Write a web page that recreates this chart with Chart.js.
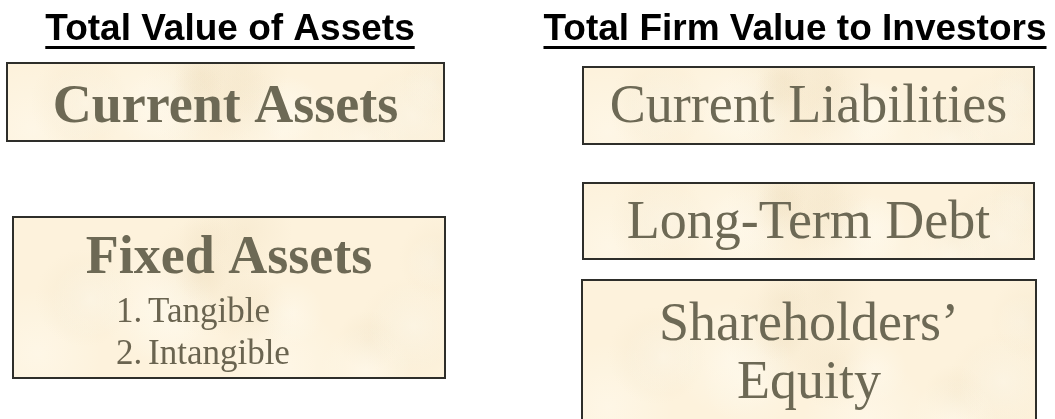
<!DOCTYPE html>
<html>
<head>
<meta charset="utf-8">
<script src="https://cdn.jsdelivr.net/npm/chart.js@4.4.1/dist/chart.umd.min.js"></script>
<style>
  html, body { margin: 0; padding: 0; background: #fff; }
  #wrap { width: 1055px; height: 419px; }
</style>
</head>
<body>
<div id="wrap"><canvas id="c"></canvas></div>
<script>
// column headings and box contents
const columnTitles = ["Total Value of Assets", "Total Firm Value to Investors"];
const boxLabels = [["Current Assets"], ["Fixed Assets"], ["Current Liabilities"], ["Long-Term Debt"], ["Shareholders\u2019", "Equity"]];
const boxBold = [true, true, false, false, false];
const fixedAssetItems = ["Tangible", "Intangible"];

// box extents in chart units (x: 0-1055, y: 0-419 from the top)
const boxX = [[7, 444], [13, 445], [583, 1034], [583, 1034], [582, 1036]];
const boxY = [[63, 141], [217, 378], [67, 144], [183, 259], [280, 430]];

const layout = {
  titleX: [230, 795], titleBase: 40, underline: 46,
  labelBase: [[122], [273], [122], [238], [340, 398]],
  itemX: 116, itemTextX: 148, itemBase: [322, 364]
};

const textColor = "#6d6955";

function frac(v) { return v - Math.floor(v); }

// parchment fill with soft mottling (fixed pattern)
function parchment(ctx, x, y, w, h) {
  ctx.fillStyle = "#fdf2dc";
  ctx.fillRect(x, y, w, h);
  for (let i = 1; i <= 18; i++) {
    const px = x + w * frac(Math.sin(i * 12.9898) * 43758.5453);
    const py = y + h * frac(Math.sin(i * 78.233) * 12345.678);
    const r = 25 + 45 * frac(Math.sin(i * 3.7) * 999.1);
    const g = ctx.createRadialGradient(px, py, 0, px, py, r);
    const light = i % 2 === 0;
    g.addColorStop(0, light ? "rgba(255,251,240,0.5)" : "rgba(238,222,190,0.3)");
    g.addColorStop(1, light ? "rgba(255,251,240,0)" : "rgba(238,222,190,0)");
    ctx.fillStyle = g;
    ctx.fillRect(x, y, w, h);
  }
}

const diagramPlugin = {
  id: "diagram",
  afterDatasetsDraw(chart) {
    const ctx = chart.ctx;
    const xs = chart.scales.x, ys = chart.scales.y;
    ctx.save();

    // column titles, underlined
    ctx.font = "bold 37px 'Liberation Sans', Arial, sans-serif";
    ctx.fillStyle = "#000";
    ctx.textAlign = "center";
    ctx.textBaseline = "alphabetic";
    columnTitles.forEach((t, i) => {
      const cx = xs.getPixelForValue(layout.titleX[i]);
      const by = ys.getPixelForValue(layout.titleBase);
      ctx.fillText(t, cx, by);
      const w = ctx.measureText(t).width;
      ctx.fillRect(cx - w / 2, ys.getPixelForValue(layout.underline), w, 3);
    });

    // boxes
    boxLabels.forEach((lines, i) => {
      const x0 = xs.getPixelForValue(boxX[i][0]), x1 = xs.getPixelForValue(boxX[i][1]);
      const y0 = ys.getPixelForValue(boxY[i][0]), y1 = ys.getPixelForValue(boxY[i][1]);
      ctx.save();
      ctx.beginPath();
      ctx.rect(x0, y0, x1 - x0, y1 - y0);
      ctx.clip();
      parchment(ctx, x0, y0, x1 - x0, y1 - y0);
      ctx.restore();
      ctx.strokeStyle = "#2e2e2a";
      ctx.lineWidth = 2;
      ctx.strokeRect(x0, y0, x1 - x0, y1 - y0);

      ctx.fillStyle = textColor;
      ctx.textAlign = "center";
      ctx.font = (boxBold[i] ? "bold " : "") + "54px 'Liberation Serif', 'Times New Roman', serif";
      const cx = (x0 + x1) / 2;
      lines.forEach((l, j) => {
        ctx.fillText(l, cx, ys.getPixelForValue(layout.labelBase[i][j]));
      });
    });

    // numbered items under Fixed Assets
    ctx.font = "35px 'Liberation Serif', 'Times New Roman', serif";
    ctx.fillStyle = "#6a6450";
    ctx.textAlign = "left";
    fixedAssetItems.forEach((t, j) => {
      const by = ys.getPixelForValue(layout.itemBase[j]);
      ctx.fillText((j + 1) + ".", xs.getPixelForValue(layout.itemX), by);
      ctx.fillText(t, xs.getPixelForValue(layout.itemTextX), by);
    });

    ctx.restore();
  }
};

new Chart(document.getElementById("c"), {
  type: "scatter",
  data: { datasets: [{ data: [], pointRadius: 0 }] },
  options: {
    responsive: true,
    maintainAspectRatio: false,
    animation: false,
    layout: { padding: 0 },
    plugins: { legend: { display: false }, tooltip: { enabled: false } },
    scales: {
      x: { type: "linear", min: 0, max: 1055, display: false },
      y: { type: "linear", min: 0, max: 419, reverse: true, display: false }
    }
  },
  plugins: [diagramPlugin]
});
</script>
</body>
</html>
